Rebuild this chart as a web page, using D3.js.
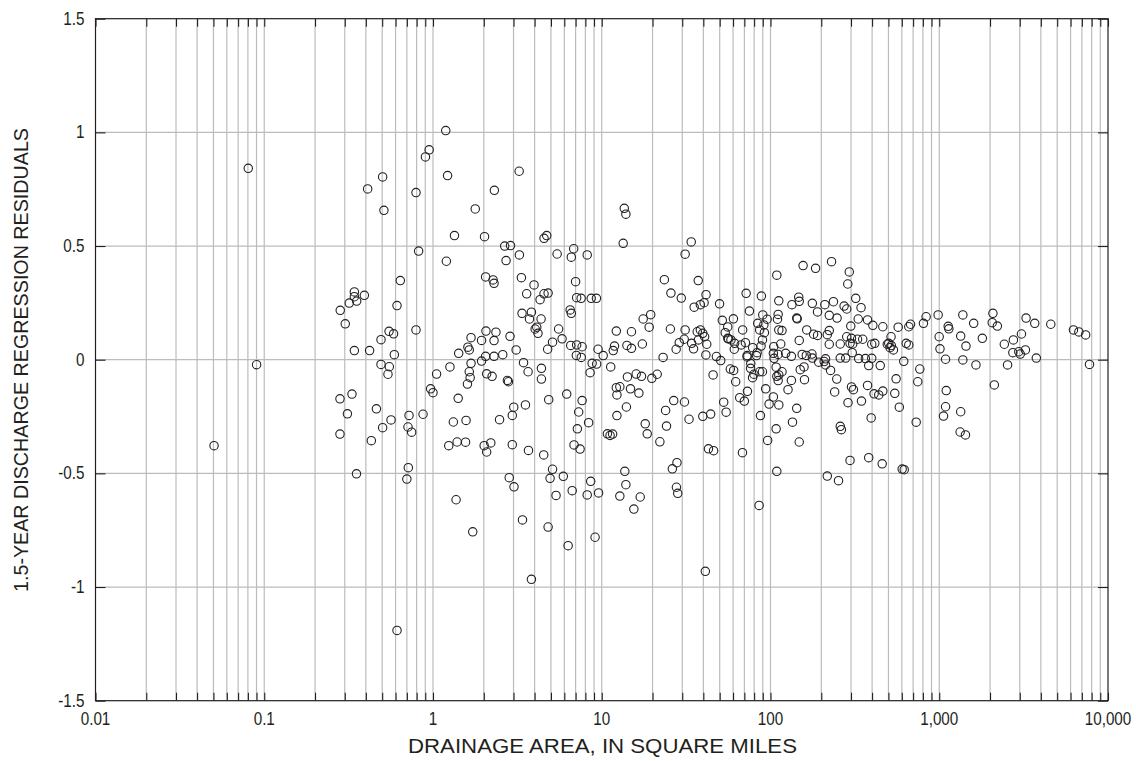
<!DOCTYPE html>
<html>
<head>
<meta charset="utf-8">
<script src="https://cdn.jsdelivr.net/npm/d3@7"></script>
<style>
  body { margin: 0; background: #fff; }
  svg { display: block; }
  text { font-family: "Liberation Sans", Arial, sans-serif; fill: #231f20; }
</style>
</head>
<body>
<svg id="chart" width="1136" height="761"></svg>
<script>
// Drainage area (square miles) of each streamgage, in the same order as `residual`.
const drainageArea = [
  0.0504, 0.0804, 0.0901, 1.19, 0.949, 0.902, 0.503, 0.410, 0.793, 0.512,
  1.22, 0.822, 1.20, 0.640, 0.342, 0.392, 0.342, 0.353, 0.319, 0.282,
  0.302, 0.612, 0.549, 0.584, 0.492, 0.793, 0.342, 0.421, 0.590, 0.492,
  0.551, 0.541, 1.05, 1.26, 0.968, 1.00, 0.281, 0.331, 0.462, 0.311,
  0.564, 0.721, 0.873, 0.503, 0.711, 0.747, 0.281, 0.431, 1.32, 1.24,
  0.714, 0.700, 0.352, 0.612,

  3.24, 2.31, 1.78, 1.34, 2.02, 4.55, 4.72, 2.66, 2.88, 3.25,
  2.71, 5.44, 6.82, 6.60, 8.20, 2.05, 2.27, 2.30, 3.34, 3.97,
  3.59, 4.55, 4.81, 4.31, 7.00, 7.10, 7.55, 8.66, 9.30, 6.50,
  6.60, 3.37, 3.83, 3.73, 4.37, 4.03, 4.12, 4.19, 5.55, 5.82,
  5.11, 4.78, 2.06, 2.36, 2.30, 1.68, 1.94, 2.86, 1.61, 1.64,
  1.42, 3.11, 2.05, 2.30, 2.59, 6.55, 7.10, 7.65, 7.07, 7.56,
  9.51, 10.2, 11.7, 12.2,

  1.68, 1.94, 1.64, 1.66, 1.60, 2.08, 2.24, 2.76, 2.80, 3.44,
  3.66, 4.39, 4.39, 8.77, 9.33, 11.3, 8.53, 1.41, 3.01, 2.95,
  3.53, 4.85, 6.20, 7.65, 7.30, 8.36, 7.17, 1.57, 2.48, 1.39,
  1.56, 2.01, 2.08, 2.20, 2.95, 3.68, 4.53, 6.85, 7.44, 10.8,
  11.2, 11.6, 5.11, 4.94, 5.92, 2.83, 3.02, 5.36, 6.68, 8.60,
  8.20, 9.58, 1.37, 3.39, 4.81, 1.72, 9.13, 6.32, 3.83,

  13.6, 13.9, 13.4, 33.9, 31.2, 23.5, 37.3, 25.7, 29.6, 41.5,
  35.3, 38.4, 40.4, 49.9, 71.7, 88.3, 109, 112, 75.0, 17.6,
  19.5, 19.1, 15.0, 25.5, 31.2, 51.8, 60.3, 55.8, 68.4, 90.0,
  95.5, 84.0, 91.3, 111, 110, 112, 86.3, 92.0, 36.8, 38.4,
  39.7, 40.7, 41.9, 28.8, 30.8, 27.6, 34.1, 35.0, 37.4, 53.9,
  55.8, 56.4, 58.3, 61.3, 61.0, 67.0, 71.0, 78.4, 83.3, 72.7,
  89.6, 87.9, 104.5, 104, 105, 11.9, 14.1, 15.0, 17.4, 23.1,
  41.4, 47.8, 50.7, 76.4,

  72.7, 82.6, 76.2, 78.3, 79.7, 86.3, 89.6, 108, 109, 111,
  57.8, 60.5, 62.2, 45.7, 14.2, 16.0, 17.2, 19.8, 21.3, 12.2,
  12.8, 12.3, 14.8, 16.6, 14.0, 12.3, 18.1, 18.6, 22.1, 23.9,
  24.2, 26.7, 30.9, 32.9, 39.7, 44.2, 42.9, 46.0, 52.8, 54.6,
  65.7, 70.0, 73.0, 68.2, 93.6, 104, 98.1, 87.2, 108, 96.2,
  109, 13.7, 13.9, 12.8, 16.9, 15.5, 27.9, 26.2, 27.7, 28.2,
  85.6, 41.1,

  111, 133, 154, 177, 193, 208, 212, 212, 227, 259,
  279, 333, 365, 398, 382, 447, 616, 1090, 117, 112,
  150, 158, 133, 159, 127, 247, 240, 302, 310, 376,
  411, 438, 463, 555, 545, 767, 746, 1100, 1090, 1060,
  288, 346, 580, 112, 143, 135, 259, 263, 395, 730,
  148, 296, 382, 459, 603, 620, 217, 253,

  156, 185, 230, 293, 287, 147, 148, 134, 177, 190,
  210, 236, 273, 283, 320, 344, 223, 248, 143, 144,
  331, 376, 404, 463, 299, 117, 164, 180, 190, 223,
  217, 148, 115, 223, 259, 283, 296, 307, 302, 328,
  352, 398, 415, 518, 502, 492, 520, 511, 535, 571,
  660, 676, 806, 836, 985, 1130, 999, 1010, 637, 660,
  123, 163, 176, 305,

  1380, 1140, 1600, 2080, 2060, 2210, 3270, 3680, 4580, 6240,
  6720, 7370, 1340, 1440, 1800, 2430, 2750, 3070, 2730, 2960,
  3020, 3240, 3760, 1380, 1650, 2540, 7770, 2120, 1340, 1330,
  1430
];

// 1.5-year discharge regression residual (log units) for each streamgage.
const residual = [
  -0.378, 0.842, -0.022, 1.008, 0.923, 0.892, 0.804, 0.751, 0.735, 0.657,
  0.810, 0.478, 0.433, 0.348, 0.298, 0.283, 0.277, 0.258, 0.249, 0.217,
  0.158, 0.238, 0.125, 0.114, 0.088, 0.131, 0.040, 0.040, 0.022, -0.021,
  -0.031, -0.064, -0.063, -0.032, -0.128, -0.145, -0.172, -0.151, -0.216, -0.238,
  -0.265, -0.245, -0.240, -0.299, -0.296, -0.319, -0.327, -0.356, -0.274, -0.378,
  -0.475, -0.525, -0.502, -1.191,

  0.829, 0.745, 0.663, 0.546, 0.541, 0.534, 0.546, 0.500, 0.502, 0.461,
  0.436, 0.465, 0.488, 0.451, 0.461, 0.364, 0.351, 0.336, 0.361, 0.329,
  0.290, 0.290, 0.293, 0.264, 0.343, 0.273, 0.270, 0.270, 0.270, 0.219,
  0.204, 0.204, 0.209, 0.179, 0.179, 0.135, 0.143, 0.116, 0.135, 0.092,
  0.077, 0.046, 0.126, 0.121, 0.084, 0.097, 0.085, 0.103, 0.055, 0.043,
  0.028, 0.043, 0.015, 0.015, 0.022, 0.063, 0.065, 0.057, 0.019, 0.010,
  0.046, 0.018, 0.040, 0.126,

  -0.016, -0.006, -0.053, -0.079, -0.107, -0.062, -0.073, -0.091, -0.097, -0.013,
  -0.053, -0.038, -0.085, -0.016, -0.019, -0.032, -0.057, -0.170, -0.209, -0.245,
  -0.199, -0.176, -0.151, -0.180, -0.230, -0.277, -0.304, -0.267, -0.264, -0.362,
  -0.363, -0.378, -0.406, -0.366, -0.374, -0.399, -0.419, -0.375, -0.393, -0.326,
  -0.333, -0.327, -0.482, -0.522, -0.513, -0.519, -0.559, -0.597, -0.576, -0.535,
  -0.595, -0.586, -0.616, -0.705, -0.736, -0.757, -0.781, -0.818, -0.966,

  0.666, 0.640, 0.512, 0.518, 0.464, 0.352, 0.348, 0.293, 0.271, 0.286,
  0.231, 0.242, 0.251, 0.246, 0.292, 0.280, 0.372, 0.259, 0.214, 0.179,
  0.198, 0.143, 0.123, 0.135, 0.131, 0.173, 0.180, 0.144, 0.131, 0.197,
  0.178, 0.160, 0.153, 0.199, 0.178, 0.131, 0.131, 0.119, 0.123, 0.131,
  0.116, 0.101, 0.068, 0.075, 0.090, 0.046, 0.072, 0.048, 0.087, 0.119,
  0.094, 0.092, 0.087, 0.072, 0.046, 0.065, 0.075, 0.053, 0.031, 0.018,
  0.087, 0.060, 0.057, 0.028, 0.006, 0.060, 0.063, 0.050, 0.069, 0.010,
  0.021, 0.014, -0.004, -0.017,

  0.012, 0.018, -0.038, -0.079, -0.064, -0.053, -0.053, -0.033, -0.073, -0.092,
  -0.041, -0.047, -0.097, -0.067, -0.076, -0.063, -0.073, -0.082, -0.064, -0.123,
  -0.119, -0.155, -0.128, -0.147, -0.208, -0.246, -0.282, -0.326, -0.361, -0.223,
  -0.292, -0.180, -0.186, -0.262, -0.249, -0.239, -0.392, -0.400, -0.187, -0.231,
  -0.167, -0.182, -0.139, -0.409, -0.128, -0.164, -0.195, -0.246, -0.304, -0.355,
  -0.491, -0.491, -0.550, -0.600, -0.604, -0.657, -0.453, -0.480, -0.561, -0.588,
  -0.641, -0.931,

  0.023, 0.015, 0.023, 0.007, -0.011, -0.008, 0.004, -0.023, -0.047, 0.007,
  0.007, 0.005, 0.005, 0.006, -0.026, -0.026, -0.007, 0.002, -0.053, -0.067,
  -0.044, -0.032, -0.091, -0.088, -0.132, -0.085, -0.142, -0.120, -0.132, -0.113,
  -0.150, -0.155, -0.138, -0.084, -0.148, -0.041, -0.097, -0.136, -0.207, -0.248,
  -0.189, -0.182, -0.209, -0.199, -0.214, -0.275, -0.293, -0.308, -0.256, -0.275,
  -0.362, -0.443, -0.431, -0.458, -0.481, -0.484, -0.512, -0.532,

  0.414, 0.402, 0.431, 0.386, 0.333, 0.275, 0.257, 0.242, 0.248, 0.210,
  0.242, 0.255, 0.236, 0.223, 0.270, 0.229, 0.195, 0.183, 0.183, 0.180,
  0.179, 0.175, 0.151, 0.145, 0.148, 0.128, 0.131, 0.112, 0.107, 0.128,
  0.110, 0.085, 0.069, 0.068, 0.069, 0.101, 0.072, 0.069, 0.094, 0.090,
  0.090, 0.068, 0.072, 0.101, 0.072, 0.068, 0.062, 0.053, 0.043, 0.143,
  0.145, 0.156, 0.160, 0.189, 0.197, 0.147, 0.101, 0.048, 0.072, 0.065,
  0.028, 0.019, 0.025, 0.031,

  0.197, 0.136, 0.160, 0.204, 0.163, 0.148, 0.183, 0.160, 0.156, 0.131,
  0.122, 0.109, 0.104, 0.060, 0.094, 0.068, 0.087, 0.113, 0.031, 0.035,
  0.025, 0.043, 0.007, -0.001, -0.023, -0.023, -0.021, -0.111, -0.229, -0.318,
  -0.331
];

// Axis ticks and their labels
const xMajorTicks = [0.01, 0.1, 1, 10, 100, 1000, 10000];
const xTickLabels = ["0.01", "0.1", "1", "10", "100", "1,000", "10,000"];
const yTicks = [-1.5, -1, -0.5, 0, 0.5, 1, 1.5];
const yTickLabels = ["-1.5", "-1", "-0.5", "0", "0.5", "1", "1.5"];

const xTitle = "DRAINAGE AREA, IN SQUARE MILES";
const yTitle = "1.5-YEAR DISCHARGE REGRESSION RESIDUALS";

const frame = { left: 95.5, right: 1108, top: 18.7, bottom: 700.7 };
const svg = d3.select("#chart");

const x = d3.scaleLog().domain([0.01, 10000]).range([frame.left, frame.right]);
const y = d3.scaleLinear().domain([-1.5, 1.5]).range([frame.bottom, frame.top]);

const logTicks = x.ticks();   // 1..9 x every power of ten
const gridColor = "#bcbcbc";
const inkColor = "#231f20";
const narrow = 0.87;          // horizontal squeeze for condensed tick labels

// Grid
const grid = svg.append("g");
grid.selectAll("line.v")
  .data(logTicks.filter(t => t > 0.01 && t < 10000))
  .join("line")
  .attr("x1", d => x(d)).attr("x2", d => x(d))
  .attr("y1", frame.top).attr("y2", frame.bottom)
  .attr("stroke", gridColor).attr("stroke-width", 1.2);
grid.selectAll("line.h")
  .data(yTicks.filter(t => t > -1.5 && t < 1.5))
  .join("line")
  .attr("x1", frame.left).attr("x2", frame.right)
  .attr("y1", d => y(d)).attr("y2", d => y(d))
  .attr("stroke", gridColor).attr("stroke-width", 1.2);

// Inward tick marks on all four sides
function styleAxis(g) {
  g.select(".domain").remove();
  g.selectAll(".tick line").attr("stroke", inkColor).attr("stroke-width", 1.1);
  g.selectAll(".tick text").remove();
}
svg.append("g").attr("transform", `translate(0,${frame.bottom})`)
  .call(d3.axisBottom(x).tickValues(logTicks).tickSize(-8).tickFormat("")).call(styleAxis);
svg.append("g").attr("transform", `translate(0,${frame.top})`)
  .call(d3.axisTop(x).tickValues(logTicks).tickSize(-8).tickFormat("")).call(styleAxis);
svg.append("g").attr("transform", `translate(${frame.left},0)`)
  .call(d3.axisLeft(y).tickValues(yTicks).tickSize(-10).tickFormat("")).call(styleAxis);
svg.append("g").attr("transform", `translate(${frame.right},0)`)
  .call(d3.axisRight(y).tickValues(yTicks).tickSize(-10).tickFormat("")).call(styleAxis);

// Plot frame
svg.append("rect")
  .attr("x", frame.left).attr("y", frame.top)
  .attr("width", frame.right - frame.left).attr("height", frame.bottom - frame.top)
  .attr("fill", "none").attr("stroke", inkColor).attr("stroke-width", 1.2);

// Tick labels (condensed)
svg.append("g").selectAll("text")
  .data(xMajorTicks)
  .join("text")
  .attr("transform", d => `translate(${x(d)},${frame.bottom + 24}) scale(${narrow},1)`)
  .attr("text-anchor", "middle")
  .attr("font-size", 17.5)
  .text((d, i) => xTickLabels[i]);

svg.append("g").selectAll("text")
  .data(yTicks)
  .join("text")
  .attr("transform", d => `translate(${frame.left - 11},${y(d) + 6}) scale(${narrow},1)`)
  .attr("text-anchor", "end")
  .attr("font-size", 17.5)
  .text((d, i) => yTickLabels[i]);

// Axis titles
svg.append("text")
  .attr("x", 602.5).attr("y", 753)
  .attr("text-anchor", "middle")
  .attr("font-size", 21)
  .attr("textLength", 389).attr("lengthAdjust", "spacingAndGlyphs")
  .text(xTitle);

svg.append("text")
  .attr("transform", "translate(28,360) rotate(-90)")
  .attr("text-anchor", "middle")
  .attr("font-size", 21)
  .attr("textLength", 464).attr("lengthAdjust", "spacingAndGlyphs")
  .text(yTitle);

// Residual points
const sites = drainageArea.map((a, i) => ({ area: a, resid: residual[i] }));
svg.append("g").selectAll("circle")
  .data(sites)
  .join("circle")
  .attr("cx", d => x(d.area))
  .attr("cy", d => y(d.resid))
  .attr("r", 4.2)
  .attr("fill", "none")
  .attr("stroke", inkColor)
  .attr("stroke-width", 1.1);
</script>
</body>
</html>
